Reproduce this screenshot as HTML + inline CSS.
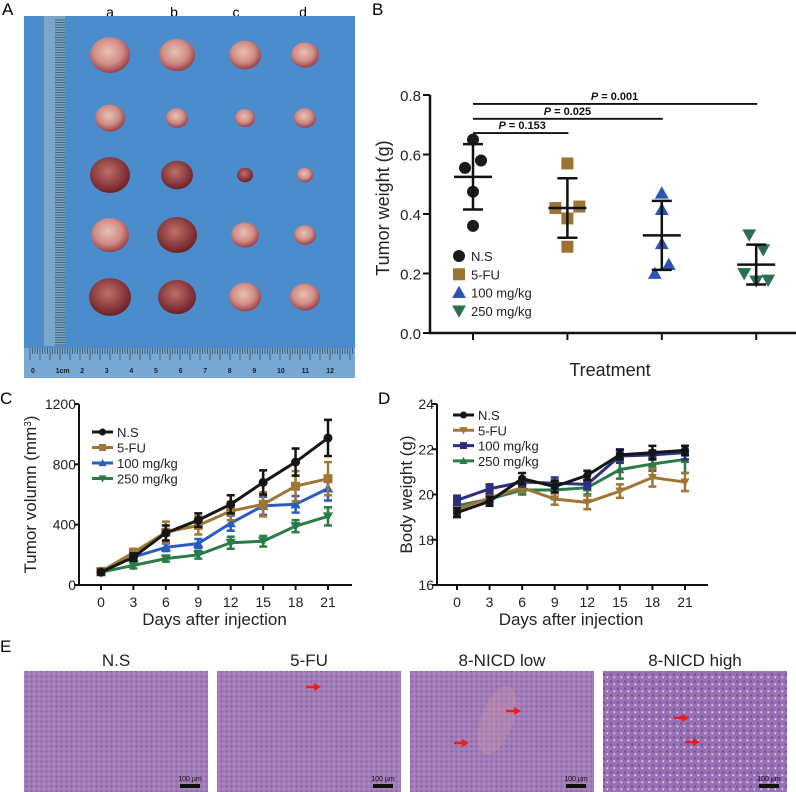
<!DOCTYPE html>
<html><head><meta charset="utf-8"><style>
body{margin:0;background:#fff;width:796px;height:792px;overflow:hidden;font-family:"Liberation Sans","DejaVu Sans",sans-serif}
svg{position:absolute;left:0;top:0}
</style></head><body>
<svg id="fig" width="796" height="792" viewBox="0 0 796 792">
<defs>
<radialGradient id="tum" cx="45%" cy="40%" r="60%"><stop offset="0" stop-color="#e8c0b4"/><stop offset="0.6" stop-color="#cf8c86"/><stop offset="1" stop-color="#9a4048"/></radialGradient>
<radialGradient id="tumd" cx="45%" cy="40%" r="60%"><stop offset="0" stop-color="#c0706a"/><stop offset="1" stop-color="#6e2028"/></radialGradient>
<pattern id="he" width="5" height="5" patternUnits="userSpaceOnUse"><rect width="5" height="5" fill="#a27cb8"/><circle cx="1.5" cy="1.5" r="1" fill="#8560a6"/><circle cx="4" cy="3.8" r="0.6" fill="#c2a6d0"/></pattern>
<pattern id="he2" width="7" height="7" patternUnits="userSpaceOnUse"><rect width="7" height="7" fill="#9870b4"/><circle cx="2" cy="2.5" r="1.1" fill="#76489a"/><circle cx="5.3" cy="5.3" r="1" fill="#ddd0e6"/></pattern>
</defs>
<g>
<text x="2" y="15" font-size="17">A</text>
<text x="110" y="17" font-size="14" text-anchor="middle">a</text>
<text x="174" y="17" font-size="14" text-anchor="middle">b</text>
<text x="236" y="17" font-size="14" text-anchor="middle">c</text>
<text x="303" y="17" font-size="14" text-anchor="middle">d</text>
<rect x="24" y="16" width="331" height="362" fill="#4a8ccc"/>
<rect x="44" y="16" width="21" height="330" fill="#7aa6cc"/>
<rect x="24" y="348" width="331" height="30" fill="#78a8d2"/>
<g id="tumors"></g>
<g id="rulerTicks" stroke="#234" stroke-width="0.6"></g>
</g>
<g>
<text x="372" y="15" font-size="17">B</text>
<g id="pb"></g>
</g>
<g>
<text x="0" y="404" font-size="17">C</text>
<g id="pc"></g>
</g>
<g>
<text x="378" y="404" font-size="17">D</text>
<g id="pd"></g>
</g>
<g>
<text x="0" y="652" font-size="17">E</text>
<g id="pe"></g>
</g>
</svg>
<script>
const NS='http://www.w3.org/2000/svg';
function mk(parent,tag,attrs,txt){const e=document.createElementNS(NS,tag);for(const k in attrs)e.setAttribute(k,attrs[k]);if(txt!==undefined)e.textContent=txt;parent.appendChild(e);return e;}

// ---------- Panel A decoration ----------
const tumorCols=[110,177,245,305];
const tumorRows=[55,118,175,235,297];
const tumorSizes=[[40,36,32,28],[30,22,20,22],[40,32,16,16],[38,40,28,22],[42,38,32,30]];
const tg=document.getElementById('tumors');
let e;
tumorRows.forEach((y,r)=>tumorCols.forEach((x,c)=>{
  const s=tumorSizes[r][c];
  const dark=(r===2&&c<3)||(r===3&&c===1)||(r===4&&c<2);
  e=mk(tg,'ellipse',{cx:x,cy:y,rx:s/2,ry:s/2*0.9,fill:dark?'url(#tumd)':'url(#tum)'});
  
  
}));
const rt=document.getElementById('rulerTicks');
for(let x=30;x<354;x+=2.5){mk(rt,'line',{x1:x,y1:348,x2:x,y2:(Math.round((x-30)/2.5)%4===0)?360:354});}
for(let y=20;y<346;y+=2.5){mk(rt,'line',{x1:55,y1:y,x2:65,y2:y});}
['0','1cm','2','3','4','5','6','7','8','9','10','11','12'].forEach((t,i)=>{e=mk(rt,'text',{x:31+i*24.6,y:373,'font-size':7,'font-weight':'bold',fill:'#123',stroke:'none'},t);});

// ---------- Panel B ----------
const bGroups=['N.S','5-FU','100 mg/kg','250 mg/kg'];
const bColors=['#1a1a1a','#9b7433','#2a55b5','#2a7050'];
const bPoints=[[0.65,0.58,0.555,0.475,0.36],[0.57,0.42,0.425,0.385,0.29],[0.47,0.415,0.30,0.23,0.20],[0.33,0.28,0.20,0.175,0.178]];
const bJitter=[[0,8,-8,0,0],[0,-12,12,0,0],[0,0,0,7,-7],[-7,7,-12,0,12]];
const bMean=[0.525,0.42,0.328,0.23];
const bSd=[0.11,0.10,0.116,0.067];
const bTicks=[0,0.2,0.4,0.6,0.8];
const bSig=[{from:0,to:1,label:'0.153',y:0.672},{from:0,to:2,label:'0.025',y:0.72},{from:0,to:3,label:'0.001',y:0.77}];
const pb=document.getElementById('pb');
const bY=v=>333-v*297.5, bX=i=>473+i*94.4;
e=mk(pb,'line',{x1:430,y1:95,x2:430,y2:334,stroke:'#111','stroke-width':2.5});
e=mk(pb,'line',{x1:429,y1:333,x2:796,y2:333,stroke:'#111','stroke-width':2.5});
bTicks.forEach(t=>{mk(pb,'line',{x1:423,y1:bY(t),x2:430,y2:bY(t),stroke:'#111','stroke-width':2});
 e=mk(pb,'text',{x:421,y:bY(t)+6,'font-size':15,'text-anchor':'end',fill:'#222'},t.toFixed(1));});
bGroups.forEach((g,i)=>mk(pb,'line',{x1:bX(i),y1:333,x2:bX(i),y2:340,stroke:'#111','stroke-width':2}));
e=mk(pb,'text',{x:0,y:0,'font-size':18,'text-anchor':'middle',fill:'#222',transform:'translate(389,208) rotate(-90)'},'Tumor weight (g)');
e=mk(pb,'text',{x:610,y:376,'font-size':18,'text-anchor':'middle',fill:'#222'},'Treatment');
function marker(par,k,x,y,s,col){
 if(k===0)return mk(par,'circle',{cx:x,cy:y,r:s,fill:col});
 if(k===1)return mk(par,'rect',{x:x-s,y:y-s,width:2*s,height:2*s,fill:col});
 if(k===2)return mk(par,'polygon',{points:`${x},${y-s*1.15} ${x-s*1.15},${y+s*0.9} ${x+s*1.15},${y+s*0.9}`,fill:col});
 return mk(par,'polygon',{points:`${x},${y+s*1.15} ${x-s*1.15},${y-s*0.9} ${x+s*1.15},${y-s*0.9}`,fill:col});
}
bGroups.forEach((g,i)=>{
 bPoints[i].forEach((v,j)=>{e=marker(pb,i,bX(i)+bJitter[i][j],bY(v),6,bColors[i]);});
 const x=bX(i);
 mk(pb,'line',{x1:x,y1:bY(bMean[i]+bSd[i]),x2:x,y2:bY(bMean[i]-bSd[i]),stroke:'#111','stroke-width':2.5});
 [bMean[i]+bSd[i],bMean[i]-bSd[i]].forEach(v=>mk(pb,'line',{x1:x-10,y1:bY(v),x2:x+10,y2:bY(v),stroke:'#111','stroke-width':2.5}));
 e=mk(pb,'line',{x1:x-19,y1:bY(bMean[i]),x2:x+19,y2:bY(bMean[i]),stroke:'#111','stroke-width':2.5});
 marker(pb,i,459,256+i*18.3,6,bColors[i]);
 e=mk(pb,'text',{x:471,y:261+i*18.3,'font-size':13,fill:'#222'},g);
});
bSig.forEach(s=>{
 e=mk(pb,'line',{x1:bX(s.from),y1:bY(s.y),x2:bX(s.to)+1,y2:bY(s.y),stroke:'#111','stroke-width':1.8});
 const t=mk(pb,'text',{x:(bX(s.from)+bX(s.to))/2+(s.to===1?2:0),y:bY(s.y)-4,'font-size':11,'font-weight':'bold','text-anchor':'middle',fill:'#111'});
 const it=document.createElementNS(NS,'tspan');it.setAttribute('font-style','italic');it.textContent='P';t.appendChild(it);t.appendChild(document.createTextNode(' = '+s.label));
 
});

// ---------- Line chart helper ----------
const days=[0,3,6,9,12,15,18,21];
function lineChart(gid,opt){
 const g=document.getElementById(gid);
 const X=d=>opt.x0+(opt.x21-opt.x0)*d/21;
 const Y=v=>opt.yb-(v-opt.ymin)/(opt.ymax-opt.ymin)*(opt.yb-opt.yt);
 let e=mk(g,'line',{x1:opt.ax,y1:opt.yt,x2:opt.ax,y2:opt.yb+1,stroke:'#111','stroke-width':2});
 e=mk(g,'line',{x1:opt.ax-1,y1:opt.yb,x2:opt.xend,y2:opt.yb,stroke:'#111','stroke-width':2});
 opt.yticks.forEach(t=>{mk(g,'line',{x1:opt.ax-5,y1:Y(t),x2:opt.ax,y2:Y(t),stroke:'#111','stroke-width':2});
  e=mk(g,'text',{x:opt.ax-3,y:Y(t)+5,'font-size':14,'text-anchor':'end',fill:'#222'},String(t));});
 days.forEach(d=>{mk(g,'line',{x1:X(d),y1:opt.yb,x2:X(d),y2:opt.yb+5,stroke:'#111','stroke-width':2});
  e=mk(g,'text',{x:X(d),y:opt.yb+22,'font-size':14,'text-anchor':'middle',fill:'#222'},String(d));});
 e=mk(g,'text',{x:(opt.x0+opt.x21)/2,y:opt.yb+40,'font-size':17,'text-anchor':'middle',fill:'#222'},'Days after injection');
 const yt=mk(g,'text',{x:0,y:0,'font-size':17,'text-anchor':'middle',fill:'#222',transform:`translate(${opt.ytx},${(opt.yt+opt.yb)/2}) rotate(-90)`},opt.ytitle);
 if(opt.sup){const s=document.createElementNS(NS,'tspan');s.setAttribute('baseline-shift','super');s.setAttribute('font-size','10');s.textContent='3';yt.appendChild(s);yt.appendChild(document.createTextNode(')'));}
 
 opt.series.forEach((s,i)=>{
  s.vals.forEach((v,j)=>{const x=X(days[j]);
   mk(g,'line',{x1:x,y1:Y(v+s.err[j]),x2:x,y2:Y(v-s.err[j]),stroke:s.col,'stroke-width':2.5});
   [v+s.err[j],v-s.err[j]].forEach(w=>mk(g,'line',{x1:x-4,y1:Y(w),x2:x+4,y2:Y(w),stroke:s.col,'stroke-width':2.5}));});
  const pl=mk(g,'polyline',{points:s.vals.map((v,j)=>X(days[j])+','+Y(v)).join(' '),fill:'none',stroke:s.col,'stroke-width':3});
  
  s.vals.forEach((v,j)=>{const m=marker(g,s.mk,X(days[j]),Y(v),opt.ms,s.col);});
  const ly=opt.ly+s.li*opt.ld;
  mk(g,'line',{x1:opt.lx,y1:ly,x2:opt.lx+21,y2:ly,stroke:s.col,'stroke-width':3});
  marker(g,s.mk,opt.lx+10.5,ly,3.5,s.col);
  e=mk(g,'text',{x:opt.lx+25,y:ly+5,'font-size':13,fill:'#222'},s.name);
 });
}
// Panel C data
const cNames=['N.S','5-FU','100 mg/kg','250 mg/kg'];
const cNS=[85,185,345,430,535,680,815,975];
const cNSerr=[15,25,50,45,60,80,90,120];
const cFU=[90,215,350,395,490,535,655,705];
const cFUerr=[15,25,70,60,60,80,100,110];
const c100=[85,185,250,275,410,525,535,640];
const c100err=[10,20,25,30,50,60,55,80];
const c250=[85,130,175,200,280,290,390,455];
const c250err=[10,20,20,25,40,35,40,60];
const cTicks=[0,400,800,1200];
lineChart('pc',{p:'c',x0:101,x21:328,ax:79,xend:352,yt:404,yb:585,ymin:0,ymax:1200,yticks:cTicks,ytx:36,ytitle:'Tumor volumn (mm',sup:true,lx:92,ly:432,ld:15.5,ms:4.5,
 series:[{name:cNames[3],vals:c250,err:c250err,col:'#2a7a4a',mk:3,li:3},{name:cNames[2],vals:c100,err:c100err,col:'#2a5cc0',mk:2,li:2},{name:cNames[1],vals:cFU,err:cFUerr,col:'#a07636',mk:1,li:1},{name:cNames[0],vals:cNS,err:cNSerr,col:'#151515',mk:0,li:0}]});
// Panel D data
const dNS=[19.2,19.7,20.7,20.35,20.85,21.75,21.85,21.95];
const dNSerr=[0.2,0.2,0.25,0.25,0.2,0.2,0.3,0.2];
const dFU=[19.35,19.85,20.3,19.8,19.65,20.15,20.75,20.55];
const dFUerr=[0.25,0.2,0.2,0.25,0.3,0.3,0.4,0.4];
const d100=[19.75,20.25,20.55,20.5,20.45,21.7,21.75,21.85];
const d100err=[0.2,0.2,0.2,0.25,0.2,0.3,0.2,0.3];
const d250=[19.5,19.8,20.2,20.2,20.3,21.1,21.35,21.55];
const d250err=[0.2,0.2,0.2,0.4,0.3,0.4,0.3,0.6];
const dTicks=[16,18,20,22,24];
lineChart('pd',{p:'d',x0:457,x21:685,ax:437,xend:708,yt:404,yb:585,ymin:16,ymax:24,yticks:dTicks,ytx:412,ytitle:'Body weight (g)',sup:false,lx:453,ly:415,ld:15.3,ms:4,
 series:[{name:'250 mg/kg',vals:d250,err:d250err,col:'#2a7a4a',mk:2,li:3},{name:'5-FU',vals:dFU,err:dFUerr,col:'#a07636',mk:3,li:1},{name:'100 mg/kg',vals:d100,err:d100err,col:'#2f2f80',mk:1,li:2},{name:'N.S',vals:dNS,err:dNSerr,col:'#151515',mk:0,li:0}]});

// ---------- Panel E ----------
const eTitles=['N.S','5-FU','8-NICD low','8-NICD high'];
const eX=[24,217,410,603];
const pe=document.getElementById('pe');
eTitles.forEach((t,i)=>{
 e=mk(pe,'text',{x:eX[i]+92,y:666,'font-size':17,'text-anchor':'middle',fill:'#222'},t);
 e=mk(pe,'rect',{x:eX[i],y:671,width:184,height:121,fill:i===3?'url(#he2)':'url(#he)'});
 mk(pe,'rect',{x:eX[i]+156,y:784,width:20,height:4,fill:'#111'});
 e=mk(pe,'text',{x:eX[i]+166,y:781,'font-size':7,'text-anchor':'middle',fill:'#111'},'100 µm');
});
mk(pe,'ellipse',{cx:497,cy:720,rx:16,ry:36,fill:'#c890a8',opacity:0.4,transform:'rotate(20 497 720)'});
[[318,687],[518,711],[466,743],[686,718],[697,742]].forEach(a=>{
 e=mk(pe,'polygon',{points:`${a[0]-12},${a[1]-1.2} ${a[0]-4},${a[1]-1.2} ${a[0]-4},${a[1]-4} ${a[0]+3},${a[1]} ${a[0]-4},${a[1]+4} ${a[0]-4},${a[1]+1.2} ${a[0]-12},${a[1]+1.2}`,fill:'#e8201c'});
 
});
</script>
</body></html>
